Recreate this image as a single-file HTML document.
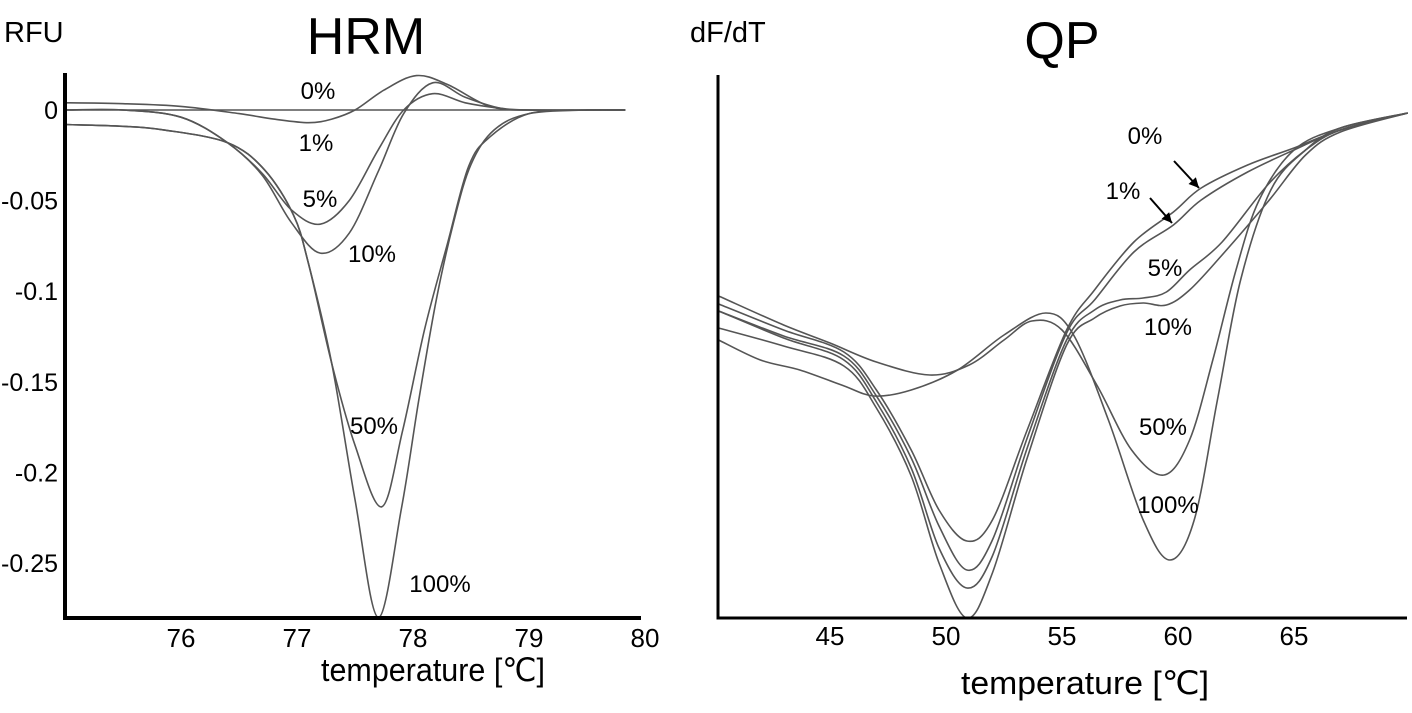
<!DOCTYPE html>
<html><head><meta charset="utf-8"><style>
html,body{margin:0;padding:0;background:#fff;}
svg{display:block;font-family:"Liberation Sans",sans-serif;}
</style></head><body>
<svg id="chart" width="1412" height="713" viewBox="0 0 1412 713">
<g id="hrm">
 <text x="366" y="54" font-size="52" text-anchor="middle">HRM</text>
 <text x="4" y="42" font-size="29">RFU</text>
 <text x="433" y="681" font-size="32" text-anchor="middle" textLength="224" lengthAdjust="spacingAndGlyphs">temperature [℃]</text>
</g>
<g id="qp">
 <text x="1062" y="58" font-size="52" text-anchor="middle">QP</text>
 <text x="690" y="42" font-size="29">dF/dT</text>
 <text x="1085" y="694" font-size="32" text-anchor="middle" textLength="248" lengthAdjust="spacingAndGlyphs">temperature [℃]</text>
</g>
</svg>
<script>
// HRM data
const hrmTicksX = [76, 77, 78, 79, 80];
const hrmTicksY = [0, -0.05, -0.1, -0.15, -0.2, -0.25];
const hrmTickLabelsY = ["0", "-0.05", "-0.1", "-0.15", "-0.2", "-0.25"];
const hrmT0 = [75, 79.83];
const hrmV0 = [0, 0];
const hrmT1 = [75,75.5,76,76.5,76.8,77.1,77.3,77.5,77.75,78.03,78.3,78.66,79,79.5,79.83];
const hrmV1 = [0.004,0.0035,0.002,-0.002,-0.005,-0.007,-0.005,0,0.011,0.019,0.014,0.002,0,0,0];
const hrmT5 = [75,75.5,76,76.4,76.7,76.95,77.2,77.45,77.7,77.92,78.17,78.45,78.75,79,79.83];
const hrmV5 = [0,0,-0.004,-0.018,-0.035,-0.055,-0.063,-0.05,-0.022,0,0.009,0.004,0.001,0,0];
const hrmV10 = [0,0,-0.004,-0.018,-0.036,-0.062,-0.079,-0.068,-0.034,-0.002,0.015,0.007,0.001,0,0];
const hrmT50 = [75,75.5,75.85,76.4,76.72,76.97,77.1,77.3,77.5,77.73,77.91,78.1,78.3,78.48,78.66,79,79.5,79.83];
const hrmV50 = [-0.008,-0.009,-0.011,-0.018,-0.033,-0.058,-0.085,-0.14,-0.185,-0.219,-0.177,-0.121,-0.073,-0.031,-0.015,-0.002,0,0];
const hrmT100 = [75,75.5,75.85,76.4,76.72,76.97,77.1,77.3,77.5,77.7,77.9,78.05,78.2,78.35,78.5,78.7,79,79.5,79.83];
const hrmV100 = [-0.008,-0.009,-0.011,-0.018,-0.033,-0.058,-0.085,-0.14,-0.215,-0.28,-0.22,-0.16,-0.105,-0.062,-0.03,-0.011,-0.002,0,0];
const hrmLabels = ["0%","1%","5%","10%","50%","100%"];
// QP data
const qpTicksX = [45, 50, 55, 60, 65];
const qpT0 = [40.2,43,45.6,47,48.5,49.7,50.9,52,53.5,55.2,56.4,58.1,59.8,61,63,65,67,69.9];
const qpV0 = [314,288,266,228,168,108,77,98,188,288,328,376,406,430,453,470,488,505];
const qpV1 = [307,282,262,222,160,92,48,78,180,285,318,366,393,418,446,468,488,505];
const qpT5 = [40.2,43,45.6,47,48.5,49.7,50.9,52,53.5,55.2,56.4,57.5,58.5,59.5,60.5,61.9,63.9,65.5,67,69.9];
const qpV5 = [307,280,258,216,150,70,30,62,170,278,308,318,320,326,348,376,434,468,488,505];
const qpV10 = [290,272,252,210,142,55,0,45,160,273,300,312,315,313,328,363,417,463,486,505];
const qpT50 = [40.2,43,45,47,49.3,51,52.5,53.7,55,56.5,58,59.4,60.5,61.5,62.5,63.5,65,67,69.9];
const qpV50 = [322,293,275,256,243,253,278,297,288,233,168,143,178,258,348,418,468,490,505];
const qpT100 = [40.2,42,43.7,45.5,46.9,48.5,50.5,52.5,54.3,55.5,57,58.5,59.65,60.7,61.7,62.7,64,65.5,67,69.9];
const qpV100 = [278,258,248,233,222,228,248,283,305,283,198,98,58,98,218,338,428,468,490,505];
const qpLabels = ["0%","1%","5%","10%","50%","100%"];

const NS = "http://www.w3.org/2000/svg";
const svg = document.getElementById('chart');
function mk(tag, attrs, parent){const e=document.createElementNS(NS,tag);for(const k in attrs)e.setAttribute(k,attrs[k]);(parent||svg).appendChild(e);return e;}
function pathFrom(pts){
  let d="M"+pts[0][0].toFixed(1)+","+pts[0][1].toFixed(1);
  for(let i=0;i<pts.length-1;i++){
    const p0=pts[i-1]||pts[i],p1=pts[i],p2=pts[i+1],p3=pts[i+2]||p2;
    const c1=[p1[0]+(p2[0]-p0[0])/6,p1[1]+(p2[1]-p0[1])/6];
    const c2=[p2[0]-(p3[0]-p1[0])/6,p2[1]-(p3[1]-p1[1])/6];
    d+=" C"+c1[0].toFixed(1)+","+c1[1].toFixed(1)+" "+c2[0].toFixed(1)+","+c2[1].toFixed(1)+" "+p2[0].toFixed(1)+","+p2[1].toFixed(1);
  }
  return d;
}
// HRM scales
const hx = t => 181 + (t-76)*116;
const hy = v => 110 - v*1812;
const gH = document.getElementById('hrm');
const hSeries = [[hrmT0,hrmV0],[hrmT1,hrmV1],[hrmT5,hrmV5],[hrmT5,hrmV10],[hrmT50,hrmV50],[hrmT100,hrmV100]];
hSeries.forEach((s,i)=>{
  const p=mk('path',{d:pathFrom(s[0].map((t,j)=>[hx(t),hy(s[1][j])])),fill:'none',stroke:'#555','stroke-width':1.6},gH);
  
  
});
hrmTicksX.forEach(t=>{
  const e=mk('text',{x:hx(t),y:647,'font-size':26,'text-anchor':'middle'},gH);e.textContent=String(t);
  
  
});
hrmTicksY.forEach((v,i)=>{
  const e=mk('text',{x:58,y:hy(v)+9,'font-size':25,'text-anchor':'end'},gH);e.textContent=hrmTickLabelsY[i];
  
  
});
const hLabPos=[[318,99],[316,151],[320,207],[372,262],[374,434],[440,592]];
hLabPos.forEach((p,i)=>{
  const e=mk('text',{x:p[0],y:p[1],'font-size':24,'text-anchor':'middle'},gH);e.textContent=hrmLabels[i];
  
  
});
let ax=mk('path',{d:'M65,73 V618 H641',fill:'none',stroke:'#000','stroke-width':4},gH);


// QP scales
const qx = t => 830 + (t-45)*23.2;
const qy = v => 618 - v;
const gQ = document.getElementById('qp');
const qSeries=[[qpT0,qpV0],[qpT0,qpV1],[qpT5,qpV5],[qpT5,qpV10],[qpT50,qpV50],[qpT100,qpV100]];
qSeries.forEach((s,i)=>{
  const p=mk('path',{d:pathFrom(s[0].map((t,j)=>[qx(t),qy(s[1][j])])),fill:'none',stroke:'#555','stroke-width':1.6},gQ);
  
  
});
qpTicksX.forEach(t=>{
  const e=mk('text',{x:qx(t),y:645,'font-size':26,'text-anchor':'middle'},gQ);e.textContent=String(t);
  
  
});
const qLabPos=[[1145,144],[1123,199],[1165,276],[1168,335],[1163,435],[1168,513]];
qLabPos.forEach((p,i)=>{
  const e=mk('text',{x:p[0],y:p[1],'font-size':24,'text-anchor':'middle'},gQ);e.textContent=qpLabels[i];
  
  
});
[[1174,161,1199,188],[1150,198,1172,223]].forEach(a=>{
  const l=mk('line',{x1:a[0],y1:a[1],x2:a[2],y2:a[3],stroke:'#000','stroke-width':2},gQ);
  
  
  const ang=Math.atan2(a[3]-a[1],a[2]-a[0]);const L=10,W=5;
  const bx=a[2]-L*Math.cos(ang),by=a[3]-L*Math.sin(ang);
  const h=mk('polygon',{points:`${a[2]},${a[3]} ${bx-W*Math.sin(ang)},${by+W*Math.cos(ang)} ${bx+W*Math.sin(ang)},${by-W*Math.cos(ang)}`,fill:'#000'},gQ);
  
  
});
ax=mk('path',{d:'M718,75 V618 H1407',fill:'none',stroke:'#000','stroke-width':3},gQ);


</script>
</body></html>
